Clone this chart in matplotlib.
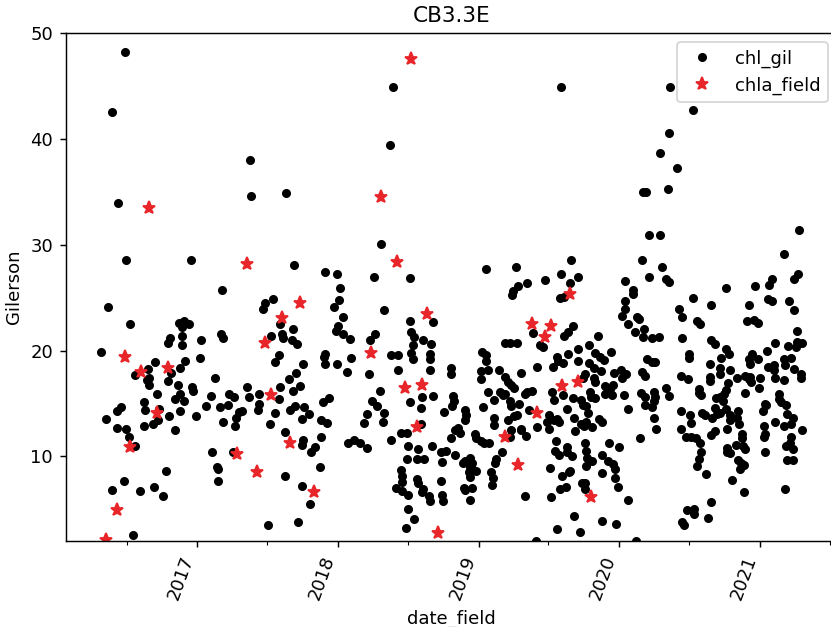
import matplotlib
matplotlib.use("Agg")
import matplotlib.pyplot as plt
import matplotlib.dates as mdates
import numpy as np
import pandas as pd

# chl_gil points (decimal year, Gilerson value)
gil_2016 = [(2016.486, 48.2), (2016.396, 42.6), (2016.441, 34.0), (2016.495, 28.6), (2016.957, 28.6),
            (2016.367, 24.1), (2016.526, 22.5), (2016.315, 19.9), (2016.87, 22.6), (2016.905, 22.8),
            (2016.94, 22.5), (2016.89, 22.2), (2016.808, 21.2), (2016.79, 20.7), (2016.893, 21.4),
            (2016.896, 20.5), (2016.917, 19.0), (2016.88, 18.4), (2016.818, 17.9), (2016.79, 17.1),
            (2016.70, 18.9), (2016.654, 18.3), (2016.56, 17.7), (2016.66, 17.4), (2016.647, 17.2),
            (2016.66, 16.8), (2016.716, 15.9), (2016.862, 16.8), (2016.88, 15.9), (2016.846, 15.4),
            (2016.905, 15.2), (2016.967, 16.6), (2016.97, 16.2), (2016.88, 14.3), (2016.99, 13.8),
            (2016.80, 13.8), (2016.73, 14.5), (2016.725, 13.4), (2016.685, 13.1), (2016.62, 12.9),
            (2016.84, 12.5), (2016.623, 15.1), (2016.63, 14.4), (2016.46, 14.7), (2016.43, 14.3),
            (2016.35, 13.5), (2016.434, 12.7), (2016.495, 12.6), (2016.516, 11.8), (2016.56, 11.0),
            (2016.777, 8.6), (2016.483, 7.7), (2016.398, 6.8), (2016.592, 6.7), (2016.694, 7.1),
            (2016.758, 6.3), (2016.545, 2.6)]
gil_2017 = [(2017.173, 25.7), (2017.372, 38.0), (2017.379, 34.6), (2017.028, 21.0), (2017.168, 21.6),
            (2017.18, 21.2), (2017.02, 19.3), (2017.128, 17.4), (2017.097, 15.7), (2017.064, 14.8),
            (2017.225, 15.9), (2017.258, 15.6), (2017.22, 14.9), (2017.16, 14.7), (2017.35, 16.6),
            (2017.37, 15.6), (2017.44, 15.9), (2017.44, 15.0), (2017.43, 14.4), (2017.315, 14.3),
            (2017.296, 14.2), (2017.277, 13.6), (2017.27, 12.9), (2017.18, 13.3), (2017.104, 10.4),
            (2017.25, 10.4), (2017.14, 9.0), (2017.146, 8.8), (2017.146, 7.7), (2017.633, 34.9),
            (2017.687, 28.1), (2017.908, 27.4), (2017.993, 27.2), (2017.536, 24.9), (2017.484, 24.5),
            (2017.467, 23.9), (2017.97, 24.1), (2017.59, 22.5), (2017.68, 22.0), (2017.6, 21.6),
            (2017.61, 21.2), (2017.675, 21.0), (2017.708, 20.6), (2017.52, 21.4), (2017.998, 22.3),
            (2017.986, 21.9), (2017.58, 19.6), (2017.55, 18.9), (2017.91, 19.7), (2017.898, 19.4),
            (2017.91, 18.7), (2017.99, 18.7), (2017.75, 18.7), (2017.70, 17.9), (2017.65, 17.3),
            (2017.73, 16.7), (2017.68, 16.2), (2017.59, 16.6), (2017.58, 15.4), (2017.694, 14.8),
            (2017.661, 14.4), (2017.76, 14.7), (2017.794, 14.0), (2017.746, 13.5), (2017.555, 14.1),
            (2017.516, 13.1), (2017.938, 15.5), (2017.896, 15.1), (2017.88, 13.4), (2017.92, 13.2),
            (2017.62, 12.3), (2017.754, 11.6), (2017.74, 11.1), (2017.836, 10.9), (2017.806, 10.4),
            (2017.88, 11.8), (2017.875, 9.0), (2017.62, 8.2), (2017.74, 7.2), (2017.80, 5.5),
            (2017.505, 3.5), (2017.716, 3.8)]
gil_2018 = [(2018.393, 44.9), (2018.367, 39.4), (2018.306, 30.1), (2018.256, 27.0), (2018.512, 26.9),
            (2018.012, 25.9), (2018.009, 24.8), (2018.036, 23.2), (2018.33, 23.8), (2018.036, 21.6),
            (2018.088, 21.1), (2018.265, 21.6), (2018.225, 21.0), (2018.095, 19.3), (2018.066, 18.0),
            (2018.218, 17.8), (2018.296, 16.2), (2018.242, 15.2), (2018.277, 14.8), (2018.33, 14.1),
            (2018.322, 13.3), (2018.204, 14.0), (2018.182, 13.2), (2018.07, 11.3), (2018.116, 11.6),
            (2018.156, 11.3), (2018.209, 10.8), (2018.38, 11.6), (2018.445, 12.2), (2018.49, 12.2),
            (2018.51, 22.8), (2018.517, 21.8), (2018.54, 21.3), (2018.604, 21.0), (2018.66, 20.6),
            (2018.53, 20.5), (2018.52, 19.8), (2018.53, 19.2), (2018.656, 19.7), (2018.656, 19.2),
            (2018.656, 18.2), (2018.678, 22.7), (2018.38, 19.6), (2018.424, 19.6), (2018.424, 18.2),
            (2018.512, 15.1), (2018.597, 15.6), (2018.59, 14.6), (2018.675, 15.7), (2018.751, 14.2),
            (2018.588, 13.1), (2018.498, 11.0), (2018.566, 10.7), (2018.49, 9.8), (2018.56, 9.8),
            (2018.61, 9.8), (2018.667, 11.0), (2018.732, 10.4), (2018.737, 9.5), (2018.73, 7.7),
            (2018.74, 6.4), (2018.745, 5.8), (2018.45, 8.7), (2018.452, 8.2), (2018.457, 7.6),
            (2018.41, 7.0), (2018.452, 6.7), (2018.5, 6.4), (2018.562, 7.9), (2018.57, 7.5),
            (2018.604, 6.9), (2018.6, 6.6), (2018.65, 6.3), (2018.654, 5.8), (2018.5, 5.0),
            (2018.537, 4.1), (2018.486, 3.2), (2018.803, 18.4), (2018.803, 17.8), (2018.974, 12.1),
            (2018.98, 11.7), (2018.82, 15.7), (2018.827, 15.2), (2018.813, 14.8), (2018.903, 14.4),
            (2018.908, 13.9), (2018.9, 13.4), (2018.853, 12.7), (2018.87, 12.2), (2018.832, 12.5),
            (2018.8, 11.7), (2018.768, 10.5), (2018.83, 10.1), (2018.9, 9.6), (2018.89, 9.4),
            (2018.936, 9.9), (2018.953, 9.4), (2018.955, 8.8), (2018.98, 8.6), (2018.936, 9.0),
            (2018.93, 8.5), (2018.936, 8.1), (2018.893, 7.0), (2018.905, 6.8), (2018.955, 7.0),
            (2018.94, 5.9)]
gil_2019 = [(2019.583, 44.9), (2019.656, 28.6), (2019.265, 27.9), (2019.052, 27.7), (2019.28, 26.1),
            (2019.344, 26.4), (2019.244, 25.6), (2019.24, 25.3), (2019.47, 26.7), (2019.583, 27.2),
            (2019.65, 26.4), (2019.71, 27.0), (2019.58, 25.0), (2019.604, 25.1), (2019.384, 21.7),
            (2019.434, 20.5), (2019.46, 20.3), (2019.604, 21.4), (2019.633, 21.8), (2019.668, 22.3),
            (2019.848, 21.4), (2019.19, 20.7), (2019.223, 20.7), (2019.27, 20.7), (2019.024, 19.9),
            (2019.052, 19.6), (2019.052, 19.0), (2019.019, 18.1), (2019.07, 18.2), (2019.017, 17.3),
            (2019.147, 18.2), (2019.19, 17.5), (2019.206, 17.0), (2019.23, 16.8), (2019.254, 16.5),
            (2019.303, 17.9), (2019.415, 18.5), (2019.557, 19.4), (2019.566, 19.0), (2019.60, 18.8),
            (2019.633, 19.7), (2019.526, 18.5), (2019.706, 20.2), (2019.706, 19.0), (2019.782, 20.5),
            (2019.829, 19.8), (2019.862, 19.4), (2019.893, 19.1), (2019.938, 19.9), (2019.782, 18.8),
            (2019.82, 18.4), (2019.867, 18.1), (2019.822, 17.4), (2019.825, 17.0), (2019.753, 17.8),
            (2019.744, 17.4), (2019.962, 17.9), (2019.957, 16.8), (2019.934, 16.4), (2019.896, 16.7),
            (2019.9, 15.9), (2019.95, 15.8), (2019.07, 16.1), (2019.034, 14.7), (2019.107, 15.3),
            (2019.152, 16.1), (2019.175, 15.8), (2019.19, 15.9), (2019.223, 15.2), (2019.23, 14.8),
            (2019.284, 15.0), (2019.33, 15.9), (2019.344, 16.1), (2019.38, 16.2), (2019.275, 13.9),
            (2019.254, 13.8), (2019.206, 13.4), (2019.107, 13.6), (2019.11, 13.0), (2019.36, 14.4),
            (2019.52, 16.1), (2019.536, 15.3), (2019.6, 15.8), (2019.626, 14.5), (2019.668, 15.5),
            (2019.727, 15.3), (2019.744, 14.9), (2019.763, 14.8), (2019.79, 16.1), (2019.8, 15.6),
            (2019.825, 15.5), (2019.5, 13.9), (2019.483, 13.3), (2019.5, 12.6), (2019.538, 13.4),
            (2019.56, 13.5), (2019.57, 13.3), (2019.68, 13.6), (2019.727, 13.1), (2019.746, 12.9),
            (2019.763, 13.3), (2019.78, 14.1), (2019.806, 12.8), (2019.687, 12.4), (2019.858, 13.5),
            (2019.88, 13.3), (2019.412, 12.8), (2019.34, 11.9), (2019.3, 12.6), (2019.303, 12.5),
            (2019.23, 12.5), (2019.223, 11.8), (2019.02, 11.5), (2019.035, 11.3), (2019.076, 11.3),
            (2019.09, 8.5), (2019.104, 8.0), (2019.095, 7.3), (2019.163, 10.4), (2019.123, 9.8),
            (2019.12, 9.4), (2019.33, 6.3), (2019.547, 11.5), (2019.545, 10.5), (2019.57, 10.1),
            (2019.628, 10.9), (2019.63, 10.4), (2019.663, 10.0), (2019.651, 8.6), (2019.64, 8.5),
            (2019.595, 8.2), (2019.505, 8.9), (2019.756, 11.3), (2019.763, 10.5), (2019.77, 9.9),
            (2019.806, 9.6), (2019.766, 9.1), (2019.88, 10.1), (2019.917, 9.6), (2019.957, 9.3),
            (2019.97, 8.8), (2019.88, 8.4), (2019.969, 8.0), (2019.99, 7.1), (2019.995, 10.9),
            (2019.93, 11.3), (2019.737, 7.5), (2019.756, 7.5), (2019.62, 7.1), (2019.578, 6.9),
            (2019.515, 6.2), (2019.753, 6.9), (2019.68, 4.4), (2019.56, 3.1), (2019.72, 2.9),
            (2019.877, 3.9), (2019.978, 3.6), (2019.41, 2.0)]
gil_2020 = [(2020.038, 26.6), (2020.097, 25.7), (2020.097, 25.4), (2020.043, 24.7), (2020.043, 23.9),
            (2020.02, 23.3), (2020.128, 23.2), (2020.063, 22.5), (2020.11, 21.8), (2020.012, 18.2),
            (2020.017, 17.4), (2020.047, 17.8), (2020.036, 15.8), (2020.066, 14.5), (2020.06, 5.9),
            (2020.363, 44.9), (2020.526, 42.7), (2020.353, 40.6), (2020.291, 38.7), (2020.412, 37.3),
            (2020.166, 35.0), (2020.194, 35.0), (2020.348, 35.3), (2020.209, 30.9), (2020.291, 30.9),
            (2020.164, 28.6), (2020.306, 27.9), (2020.213, 27.0), (2020.334, 26.8), (2020.355, 26.5),
            (2020.962, 26.1), (2020.756, 25.9), (2020.526, 25.0), (2020.65, 24.3), (2020.425, 23.9),
            (2020.45, 23.2), (2020.922, 24.3), (2020.142, 23.0), (2020.552, 22.8), (2020.576, 22.5),
            (2020.912, 22.8), (2020.956, 22.9), (2020.988, 22.6), (2020.173, 22.0), (2020.166, 21.3),
            (2020.234, 21.2), (2020.286, 21.3), (2020.448, 21.2), (2020.65, 21.0), (2020.68, 20.6),
            (2020.758, 20.2), (2020.78, 19.7), (2020.725, 19.3), (2020.716, 18.4), (2020.716, 17.8),
            (2020.495, 19.7), (2020.495, 19.3), (2020.2, 19.2), (2020.258, 18.9), (2020.234, 18.9),
            (2020.645, 18.7), (2020.79, 18.2), (2020.945, 19.7), (2020.924, 19.2), (2020.93, 18.7),
            (2020.988, 19.2), (2020.159, 18.0), (2020.182, 17.6), (2020.436, 17.6), (2020.486, 17.3),
            (2020.642, 17.5), (2020.645, 17.1), (2020.84, 17.4), (2020.896, 17.6), (2020.93, 17.5),
            (2020.94, 17.0), (2020.92, 17.3), (2020.993, 16.5), (2020.775, 16.9), (2020.76, 16.3),
            (2020.746, 15.9), (2020.716, 15.6), (2020.735, 15.2), (2020.564, 16.4), (2020.569, 16.0),
            (2020.585, 15.8), (2020.336, 16.5), (2020.355, 15.7), (2020.152, 16.0), (2020.182, 15.6),
            (2020.246, 16.1), (2020.254, 15.6), (2020.246, 15.2), (2020.18, 14.9), (2020.235, 14.7),
            (2020.685, 15.5), (2020.682, 14.6), (2020.893, 16.0), (2020.438, 14.3), (2020.502, 13.9),
            (2020.507, 13.2), (2020.588, 14.1), (2020.609, 13.9), (2020.661, 13.6), (2020.692, 14.0),
            (2020.716, 14.1), (2020.761, 14.5), (2020.787, 13.9), (2020.787, 13.4), (2020.848, 14.3),
            (2020.839, 13.6), (2020.85, 13.1), (2020.25, 13.6), (2020.26, 12.6), (2020.15, 11.7),
            (2020.438, 12.6), (2020.474, 11.8), (2020.514, 11.8), (2020.543, 11.7), (2020.573, 11.3),
            (2020.652, 12.0), (2020.68, 12.4), (2020.768, 12.6), (2020.83, 11.1), (2020.872, 12.1),
            (2020.872, 11.7), (2020.877, 11.0), (2020.891, 10.7), (2020.763, 10.8), (2020.768, 10.4),
            (2020.79, 10.3), (2020.58, 10.4), (2020.564, 9.8), (2020.55, 9.1), (2020.848, 9.7),
            (2020.865, 9.4), (2020.886, 9.2), (2020.858, 8.8), (2020.614, 8.3), (2020.801, 7.8),
            (2020.886, 6.6), (2020.65, 5.7), (2020.48, 4.9), (2020.533, 5.0), (2020.533, 4.6),
            (2020.448, 3.8), (2020.464, 3.5), (2020.628, 4.2), (2020.12, 2.0)]
gil_2021 = [(2021.275, 31.4), (2021.166, 29.1), (2021.083, 26.8), (2021.066, 26.2), (2021.244, 26.8),
            (2021.27, 27.2), (2021.054, 24.9), (2021.083, 24.7), (2021.204, 24.7), (2021.242, 23.8),
            (2021.26, 21.9), (2021.263, 20.8), (2021.3, 20.7), (2021.2, 20.4), (2021.258, 20.3),
            (2021.104, 20.7), (2021.052, 20.0), (2021.054, 18.5), (2021.097, 18.6), (2021.097, 18.2),
            (2021.166, 19.2), (2021.216, 19.3), (2021.173, 18.6), (2021.237, 18.3), (2021.0, 17.4),
            (2021.102, 17.4), (2021.17, 17.2), (2021.29, 17.8), (2021.29, 17.4), (2021.033, 15.0),
            (2021.043, 14.9), (2021.133, 15.9), (2021.137, 15.4), (2021.149, 15.1), (2021.185, 14.9),
            (2021.19, 14.0), (2021.017, 14.3), (2021.024, 12.9), (2021.102, 13.3), (2021.168, 12.9),
            (2021.235, 13.6), (2021.22, 13.1), (2021.036, 12.1), (2021.03, 11.8), (2021.036, 10.4),
            (2021.218, 11.8), (2021.21, 11.3), (2021.185, 11.0), (2021.232, 10.7), (2021.19, 9.7),
            (2021.232, 9.7), (2021.294, 12.5), (2021.18, 6.9)]

# chla_field stars
field_pts = [(2016.661, 33.5), (2017.355, 28.2), (2016.49, 19.4), (2016.604, 18.0), (2016.794, 18.4),
             (2016.718, 14.1), (2016.526, 10.9), (2017.28, 10.2), (2017.427, 8.5), (2016.434, 4.9),
             (2016.355, 2.1), (2018.519, 47.6), (2018.308, 34.5), (2018.422, 28.4), (2017.732, 24.5),
             (2017.602, 23.1), (2017.483, 20.7), (2018.635, 23.5), (2018.235, 19.8), (2017.521, 15.8),
             (2018.479, 16.5), (2018.597, 16.8), (2018.564, 12.8), (2017.66, 11.3), (2017.829, 6.6),
             (2018.709, 2.8), (2019.649, 25.4), (2019.38, 22.5), (2019.514, 22.3), (2019.474, 21.3),
             (2019.592, 16.7), (2019.704, 17.0), (2019.415, 14.1), (2019.187, 11.8), (2019.282, 9.2),
             (2019.796, 6.2)]


def to_dates(decimal_years):
    out = []
    for d in decimal_years:
        y = int(d)
        out.append(pd.Timestamp(year=y, month=1, day=1) + pd.Timedelta(days=(d - y) * 365.25))
    return out


gil = gil_2016 + gil_2017 + gil_2018 + gil_2019 + gil_2020 + gil_2021
gil_x = to_dates([p[0] for p in gil])
gil_y = [p[1] for p in gil]
fld_x = to_dates([p[0] for p in field_pts])
fld_y = [p[1] for p in field_pts]

fig, ax = plt.subplots(figsize=(831 / 130, 627 / 130), dpi=130)
# right spine falls just outside the saved picture, as in the original
fig.subplots_adjust(left=0.079, right=1.007, top=0.947, bottom=0.137)

ax.plot(gil_x, gil_y, 'o', color='black', markersize=4, label='chl_gil')
ax.plot(fld_x, fld_y, '*', color='#e8262a', markersize=7.5, label='chla_field')

ax.set_xlim(pd.Timestamp('2016-01-25'), pd.Timestamp('2021-07-19'))
ax.set_ylim(2, 50)
ax.xaxis.set_major_locator(mdates.YearLocator())
ax.xaxis.set_major_formatter(mdates.DateFormatter('%Y'))
ax.xaxis.set_minor_locator(mdates.MonthLocator(bymonth=7))
plt.setp(ax.get_xticklabels(), rotation=70, ha='right')

ax.set_title('CB3.3E')
ax.set_xlabel('date_field')
ax.set_ylabel('Gilerson')
ax.legend(loc='upper right')

fig.savefig('out.png', dpi=130)
